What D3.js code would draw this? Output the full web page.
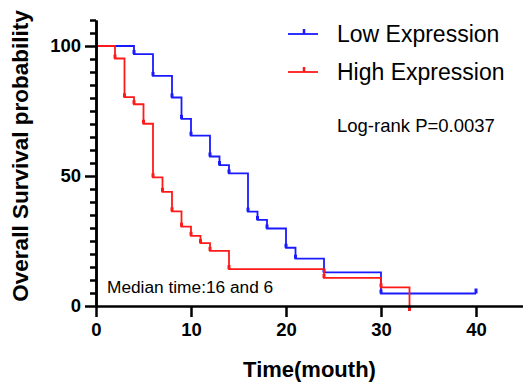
<!DOCTYPE html>
<html>
  <head>
    <meta charset="utf-8">
    <title>Overall survival</title>
    <script src="https://cdn.jsdelivr.net/npm/d3@7"></script>
    <style>
      body { margin: 0; background: #fff; }
      svg { display: block; font-family: "Liberation Sans", Arial, sans-serif; }
      .axis path, .axis line { stroke: #000; stroke-width: 2.5; }
      .axis text { font-size: 18.5px; font-weight: bold; fill: #000; }
    </style>
  </head>
  <body>
    <svg id="chart" width="523" height="383"></svg>

    <script>
      // survival curves (time in months, survival %)
      lowTimes = [0, 4, 6, 8, 9, 10, 12, 13, 14, 16, 17, 18, 20, 21, 24, 30, 40];
      lowSurv = [100, 96.9, 88.5, 80.2, 72, 65.5, 57.5, 54.2, 51, 36.3, 33.1, 29.8, 22.4, 18.2, 12.9, 4.8, 4.8];
      highTimes = [0, 2, 3, 4, 5, 6, 7, 8, 9, 10, 11, 12, 14, 24, 30, 33];
      highSurv = [100, 95.2, 80.3, 77.6, 70.1, 49.5, 43.9, 36.4, 30.5, 27, 24.2, 21.2, 14.2, 10.8, 7.2, 0];
      // censored (end) marks
      lowCensor = [[40, 4.8]];
      highCensor = [[33, 0]];

      xTicks = [0, 10, 20, 30, 40];
      yTicks = [0, 50, 100];
      yMinor = [5, 10, 15, 20, 25, 30, 35, 40, 45, 55, 60, 65, 70, 75, 80, 85, 90, 95, 105, 110];

      series = [
        { name: "Low Expression", color: "#1a1aff", times: lowTimes, surv: lowSurv, censor: lowCensor, dir: -1 },
        { name: "High Expression", color: "#ff1a1a", times: highTimes, surv: highSurv, censor: highCensor, dir: 1 }
      ];

      chart = d3.select("#chart");
      margin = { top: 20, right: 0, bottom: 77, left: 96 };
      width = 523;
      height = 383;

      x = d3.scaleLinear()
        .domain([0, 45])
        .range([margin.left, width - margin.right + 0.5]);
      y = d3.scaleLinear()
        .domain([0, 110])
        .range([height - margin.bottom, margin.top]);

      line = d3.line()
        .x(function(d) { return x(d[0]); })
        .y(function(d) { return y(d[1]); })
        .curve(d3.curveStepAfter);

      // curves
      series.forEach(function(s) {
        pts = s.times.map(function(t, i) { return [t, s.surv[i]]; });
        g = chart.append("g");
        g.append("path")
          .attr("d", line(pts))
          .attr("fill", "none")
          .attr("stroke", s.color)
          .attr("stroke-width", 1.8);
        // small marks at each step
        g.selectAll(".mark")
          .data(pts.slice(1, s.censor.length ? pts.length - 1 : pts.length))
          .join("line")
            .attr("x1", function(d) { return x(d[0]); })
            .attr("x2", function(d) { return x(d[0]); })
            .attr("y1", function(d) { return y(d[1]); })
            .attr("y2", function(d) { return y(d[1]) - 4; })
            .attr("stroke", s.color)
            .attr("stroke-width", 3);
        g.selectAll(".censor")
          .data(s.censor)
          .join("line")
            .attr("x1", function(d) { return x(d[0]); })
            .attr("x2", function(d) { return x(d[0]); })
            .attr("y1", function(d) { return y(d[1]); })
            .attr("y2", function(d) { return y(d[1]) + s.dir * 5; })
            .attr("stroke", s.color)
            .attr("stroke-width", 3);
      });

      // axes
      chart.append("g")
        .attr("class", "axis")
        .attr("transform", "translate(" + margin.left + ",0)")
        .call(d3.axisLeft(y)
          .tickValues(yMinor)
          .tickFormat("")
          .tickSize(6)
          .tickSizeOuter(0));
      chart.append("g")
        .attr("class", "axis")
        .attr("transform", "translate(" + margin.left + ",0)")
        .call(d3.axisLeft(y)
          .tickValues(yTicks)
          .tickSize(11)
          .tickPadding(4)
          .tickSizeOuter(0));
      chart.append("g")
        .attr("class", "axis")
        .attr("transform", "translate(0," + y(0) + ")")
        .call(d3.axisBottom(x)
          .tickValues(xTicks)
          .tickSize(11)
          .tickPadding(6)
          .tickSizeOuter(0));

      // axis titles
      chart.append("text")
        .attr("x", (margin.left + width) / 2)
        .attr("y", 377)
        .attr("text-anchor", "middle")
        .style("font-size", "22px")
        .style("font-weight", "bold")
        .text("Time(mouth)");
      chart.append("text")
        .attr("transform", "translate(28,156) rotate(-90)")
        .attr("text-anchor", "middle")
        .style("font-size", "22.5px")
        .style("font-weight", "bold")
        .text("Overall Survival probability");

      // legend
      legend = chart.append("g");
      series.forEach(function(s, i) {
        ly = 34 + i * 38;
        legend.append("line")
          .attr("x1", 288).attr("x2", 318)
          .attr("y1", ly).attr("y2", ly)
          .attr("stroke", s.color)
          .attr("stroke-width", 1.8);
        legend.append("line")
          .attr("x1", 304).attr("x2", 304)
          .attr("y1", ly).attr("y2", ly - 5)
          .attr("stroke", s.color)
          .attr("stroke-width", 2.5);
        legend.append("text")
          .attr("x", 337)
          .attr("y", ly + 8)
          .style("font-size", "23px")
          .text(s.name);
      });

      chart.append("text")
        .attr("x", 337)
        .attr("y", 132)
        .style("font-size", "18.5px")
        .text("Log-rank P=0.0037");
      chart.append("text")
        .attr("x", 107)
        .attr("y", 293)
        .style("font-size", "17.3px")
        .text("Median time:16 and 6");
    </script>
  </body>
</html>
